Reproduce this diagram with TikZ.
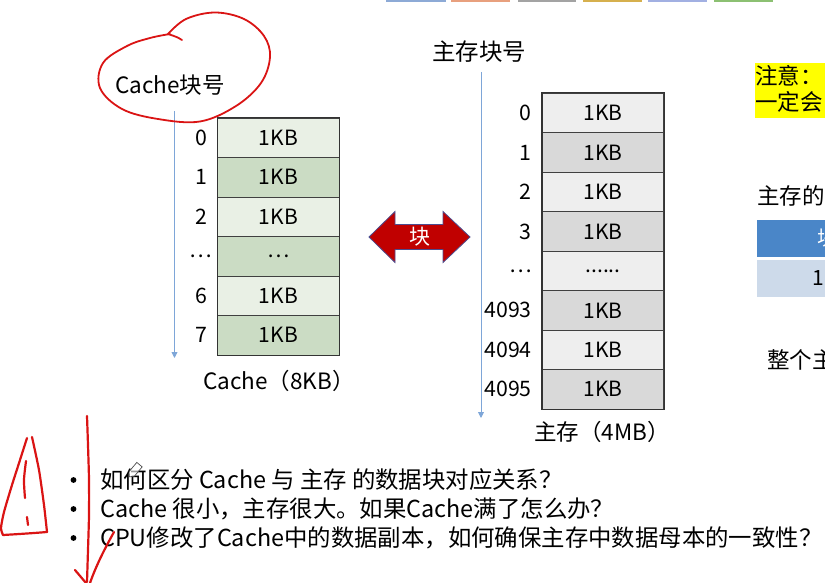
\documentclass[tikz,border=0pt]{standalone}
\usepackage{fontspec}
\setmainfont{Noto Sans CJK SC}
\usetikzlibrary{arrows.meta}

\definecolor{cachelight}{HTML}{E9F0E5}
\definecolor{cachedark}{HTML}{CBDCC4}
\definecolor{memlight}{HTML}{EEEEEE}
\definecolor{memdark}{HTML}{D9D9D9}
\definecolor{axisblue}{HTML}{7EA6D8}
\definecolor{blockred}{HTML}{C00000}
\definecolor{inkred}{HTML}{DA1414}
\definecolor{notebar}{HTML}{FFFF00}
\definecolor{headblue}{HTML}{4A86C8}
\definecolor{rowblue}{HTML}{CDDAEA}
\definecolor{tabblue}{HTML}{8DAAD6}
\definecolor{taborange}{HTML}{E8A07E}
\definecolor{tabgray}{HTML}{A3A3A3}
\definecolor{tabgold}{HTML}{D6B04E}
\definecolor{tablav}{HTML}{A2B0E2}
\definecolor{tabgreen}{HTML}{8CC072}

\newcommand\setfs[1]{\fontsize{#1}{#1}\selectfont}

\tikzset{
  cell/.style={draw=black!75, line width=0.8pt, minimum width=121.3pt,
    minimum height=39.5pt, inner sep=0pt, font=\setfs{21}},
  clight/.style={cell, fill=cachelight},
  cdark/.style={cell, fill=cachedark},
  mlight/.style={cell, fill=memlight},
  mdark/.style={cell, fill=memdark},
  rowlabel/.style={inner sep=0pt, font=\setfs{21.3}},
  caption/.style={inner sep=0pt, font=\setfs{22.5}},
  axis/.style={draw=axisblue, line width=0.9pt, -{Triangle[length=6pt,width=6pt]}},
  ink/.style={draw=inkred, line width=2.2pt, line cap=round, line join=round},
  bullettext/.style={anchor=west, inner sep=0pt, font=\setfs{23.4}},
  sidetext/.style={anchor=west, inner sep=0pt, font=\setfs{22.5}},
}

\begin{document}
\begin{tikzpicture}[x=1pt, y=-1pt]
\useasboundingbox (0,0) rectangle (825,583);
\clip (0,0) rectangle (825,583);

% toolbar strip along the top edge
\foreach \xa/\xb/\c in {386/446/tabblue, 451/510/taborange, 518/576/tabgray,
                        583/642/tabgold, 648/707/tablav, 714/773/tabgreen}
  \fill[\c] (\xa,-3) rectangle (\xb,2.2);

% ---------------- Cache ----------------
\node[caption, font=\setfs{22.5}] (cachehdr) at (170,85) {Cache块号};
\coordinate (cacheaxtop) at (174.5,111);
\coordinate (cacheaxbot) at (174.5,358);
\draw[axis] (cacheaxtop) -- (cacheaxbot);

\foreach \i/\s/\t in {0/clight/1KB, 1/cdark/1KB, 2/clight/1KB, 3/cdark/\dots,
                      4/clight/1KB, 5/cdark/1KB}
  \node[\s] (c\i) at (278.4,{137.75+39.5*\i}) {\t};
\draw[black!80, line width=1.1pt] (c0.north west) rectangle (c5.south east);
\foreach \i/\t in {0/0, 1/1, 2/2, 3/\dots, 4/6, 5/7}
  \node[rowlabel] (cl\i) at (201,{137.75+39.5*\i}) {\t};
\node[caption] (cachecap) at (279,381) {Cache（8KB）};

% ---------------- block arrow ----------------
\fill[blockred, draw=black!35!blue!40!gray, line width=0.8pt]
  (369,237) -- (395,211.5) -- (395,224.5) -- (443,224.5) -- (443,211.5)
  -- (470,237) -- (443,262.5) -- (443,249.5) -- (395,249.5) -- (395,262.5) -- cycle;
\node[inner sep=0pt, text=white, font=\setfs{21}] (blk) at (419.5,237) {块};

% ---------------- main memory ----------------
\node[caption, font=\setfs{23.5}] (memhdr) at (479,52) {主存块号};
\coordinate (memaxtop) at (481,72);
\coordinate (memaxbot) at (481,418);
\draw[axis] (memaxtop) -- (memaxbot);

\foreach \i/\s/\t in {0/mlight/1KB, 1/mdark/1KB, 2/mlight/1KB, 3/mdark/1KB,
                      4/mlight/{......}, 5/mdark/1KB, 6/mlight/1KB, 7/mdark/1KB}
  \node[\s] (m\i) at (603,{113.03+39.46*\i}) {\t};
\draw[black!80, line width=1.1pt] (m0.north west) rectangle (m7.south east);
\foreach \i/\t in {0/0, 1/1, 2/2, 3/3, 4/\dots, 5/4093, 6/4094, 7/4095}
  \node[rowlabel, anchor=east] (ml\i) at (532,{113.03+39.46*\i}) {\t};
\node[caption] (memcap) at (602,432) {主存（4MB）};

% ---------------- right margin ----------------
\fill[notebar] (755,63) rectangle (830,118);
\node[sidetext] (note1) at (755,76) {注意：};
\node[sidetext] (note2) at (755,102) {一定会};
\node[sidetext] (fmt) at (757,196) {主存的};
\fill[headblue] (757,220) rectangle (830,256.5);
\fill[rowblue] (757,260) rectangle (830,296.5);
\node[sidetext, text=white, font=\setfs{20}] (fmthead) at (817,238) {块};
\node[sidetext, font=\setfs{21}] (fmtrow) at (812,278) {1};
\node[sidetext] (whole) at (767,360) {整个主};

% ---------------- questions ----------------
\foreach \y in {480,509,538}
  \fill (73.5,\y) circle (2.9);
\node[bullettext] (q1) at (100,480) {如何区分 Cache 与 主存 的数据块对应关系？};
\node[bullettext] (q2) at (100,509) {Cache 很小，主存很大。如果Cache满了怎么办？};
\node[bullettext] (q3) at (100,538) {CPU修改了Cache中的数据副本，如何确保主存中数据母本的一致性？};

% pen cursor over the first question
\begin{scope}[rotate around={-40:(135,470)}]
  \draw[black!70, line width=0.7pt, fill=white, fill opacity=0.6]
    (131.5,463) -- (138.5,463) -- (138.5,475) -- (135,479) -- (131.5,475) -- cycle;
\end{scope}

% ---------------- hand-drawn marks ----------------
\draw[ink, line width=1.8pt] (182,40) .. controls (177,37) .. (168,34);
\draw[ink, line width=1.8pt] plot[smooth, tension=0.6] coordinates {
  (168,34) (186,19) (215,12.5) (244,19) (264,36) (270,57) (261,83)
  (236,106) (200,121.5) (158,119) (122,109) (100,88) (103,63) (127,46)
  (150,38) (170,34)};

% warning triangle
\draw[ink] plot[smooth, tension=0.4] coordinates {
  (27,438) (20,460) (12,485) (4,512) (1,528) (3,535)};
\draw[ink] (3,535) .. controls (20,534) and (35,533) .. (47,532);
\draw[ink] plot[smooth, tension=0.4] coordinates {
  (47,532) (44,505) (39,470) (32,437)};
\draw[ink] plot[smooth, tension=0.5] coordinates {(26,461) (24,480) (25,498)};
\draw[ink] (27,517) -- (28,525);

% long downward stroke
\draw[ink] plot[smooth, tension=0.5] coordinates {
  (87,416) (88,445) (89,480) (89,515) (88,550) (87,582)};
\draw[ink] (75,570) -- (86,583);
\draw[ink] (114,532) .. controls (104,550) and (96,566) .. (90,583);
\end{tikzpicture}
\end{document}
